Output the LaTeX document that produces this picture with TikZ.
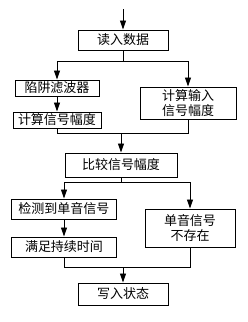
\documentclass[tikz,border=0pt]{standalone}
\usepackage{fontspec}
\setmainfont{Noto Sans CJK SC}
\usetikzlibrary{arrows.meta, positioning}

\begin{document}
\begin{tikzpicture}[x=1pt, y=-1pt,
  box/.style={draw, line width=1pt, inner sep=0pt, align=center,
              font=\fontsize{13}{15}\selectfont},
  flow/.style={-{Triangle[length=9pt,width=6pt]}, line width=0.9pt}]
  \useasboundingbox (0,0) rectangle (248,322);
  % read data, then two branches
  \coordinate (in) at (123,9);
  \node[box, minimum width=90, minimum height=20] (read) at (123,40) {读入数据};
  \node[box, minimum width=84, minimum height=16] (notch) at (57,88) {陷阱滤波器};
  \node[box, minimum width=88, minimum height=16] (calc) at (57,120) {计算信号幅度};
  \node[box, minimum width=96, minimum height=32] (calcin) at (188,103)
    {计算输入\\信号幅度};
  \draw[flow] (in) -- (read);
  \draw[flow] (read.south) -- ++(0,11) -| (notch.north);
  \draw[flow] (read.south) ++(0,11) -| (calcin.north);
  \draw[flow] (notch) -- (calc);
  % compare
  \coordinate (m1) at (121,133);
  \node[box, minimum width=112, minimum height=24] (cmp) at (121,165) {比较信号幅度};
  \draw[line width=0.9pt] (calc.south) |- (m1);
  \draw[line width=0.9pt] (calcin.south) |- (m1);
  \draw[flow] (m1) -- (cmp.north);
  % single tone found or not
  \node[box, minimum width=105, minimum height=20] (detect) at (64,209) {检测到单音信号};
  \node[box, minimum width=105, minimum height=20] (hold) at (64,247) {满足持续时间};
  \node[box, minimum width=90, minimum height=38] (none) at (190,228)
    {单音信号\\不存在};
  \draw[flow] (cmp.south) -- ++(0,5) -| (detect.north);
  \draw[flow] (cmp.south) ++(0,5) -| (none.north);
  \draw[flow] (detect) -- (hold);
  % write state
  \coordinate (m2) at (123,267);
  \node[box, minimum width=90, minimum height=22] (write) at (123,294) {写入状态};
  \draw[line width=0.9pt] (hold.south) |- (m2);
  \draw[line width=0.9pt] (none.south) |- (m2);
  \draw[flow] (m2) -- (write.north);
\end{tikzpicture}
\end{document}
